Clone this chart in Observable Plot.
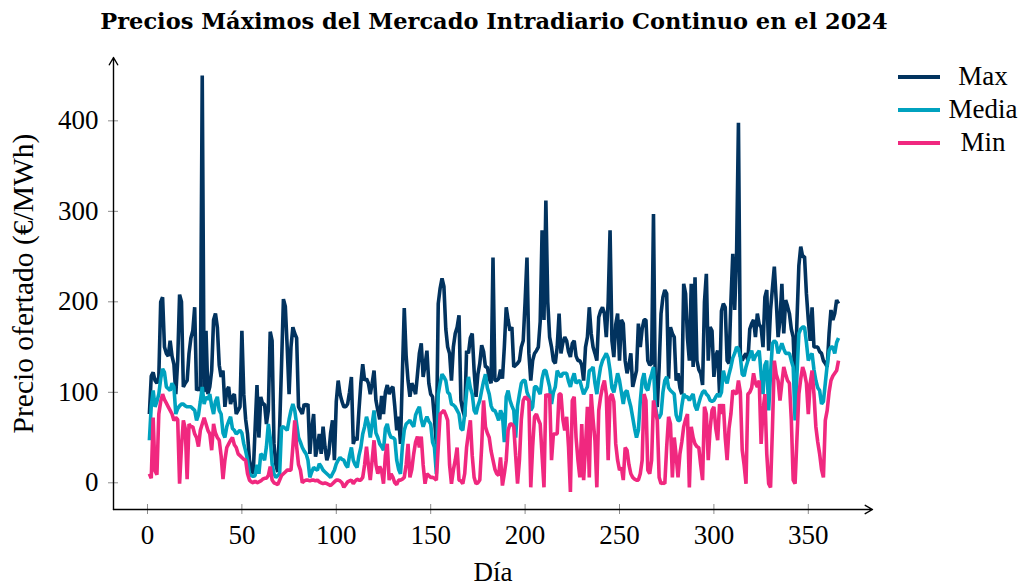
<!DOCTYPE html>
<html>
<head>
<meta charset="utf-8">
<script src="https://cdn.jsdelivr.net/npm/d3@7"></script>
<script src="https://cdn.jsdelivr.net/npm/@observablehq/plot@0.6"></script>
<style>
  html, body { margin: 0; padding: 0; background: #fff; }
  body { width: 1024px; height: 587px; position: relative; overflow: hidden; }
  #chart { position: absolute; left: 0; top: 0; }
  #title { position: absolute; left: 0; top: 8px; width: 988px; text-align: center;
           font-family: "DejaVu Serif"; font-weight: bold; font-size: 22.5px; line-height: 26px; color: #000; }
  .lg-line { position: absolute; left: 898px; width: 42px; height: 4px; }
  .lg-text { position: absolute; left: 933px; width: 100px; text-align: center;
             font-family: "Liberation Serif"; font-size: 27px; line-height: 30px; color: #000; }
</style>
</head>
<body>
<div id="title">Precios Máximos del Mercado Intradiario Continuo en el 2024</div>
<div id="chart"></div>
<div id="legend"></div>
<script>
// ---- data (daily values, 2024) ----
const seriesNames = ["Max", "Media", "Min"];
const seriesColors = ["#02335f", "#00a2bf", "#f0287f"];

const maxVals = [
76,118,122,113,110,117,200,205,150,143,
140,157,140,131,98,135,208,200,106,110,
113,143,160,168,194,102,105,102,450,100,
168,98,106,124,180,187,172,130,117,124,
84,102,106,87,95,98,76,80,84,168,
98,70,54,25,15,10,60,108,50,95,
87,87,65,80,167,157,43,20,12,62,
130,203,195,150,98,150,172,165,160,84,
80,76,87,85,87,32,60,76,29,40,
54,32,62,40,25,32,55,69,25,90,
113,98,90,84,84,87,100,117,43,50,
47,80,110,131,113,115,110,98,110,124,
91,80,70,96,76,100,108,98,104,106,
84,58,73,43,120,193,140,113,95,110,
105,98,120,143,154,117,130,146,110,98,
95,70,43,198,215,226,217,170,150,143,
113,150,165,172,185,91,80,73,146,143,
160,165,124,95,120,132,152,145,128,128,
115,110,249,113,113,115,125,115,150,194,
180,168,172,128,130,132,135,150,157,200,
249,143,113,135,143,146,150,178,279,180,
312,200,161,150,135,132,150,187,143,155,
161,157,145,139,154,157,140,135,135,130,
113,150,161,194,165,150,143,135,183,190,
194,187,161,200,279,157,139,175,187,135,
180,176,135,121,130,143,106,115,124,176,
150,170,180,180,135,130,132,297,90,84,
128,187,205,213,209,115,172,165,161,113,
121,105,98,220,209,160,135,220,128,227,
135,125,121,108,200,231,135,172,168,117,
140,146,98,190,198,194,135,132,200,253,
191,250,398,140,135,140,143,135,170,176,
180,161,187,175,172,150,205,213,146,191,
215,239,202,161,180,220,165,202,195,187,
170,161,106,180,240,261,250,250,209,180,
157,194,150,150,150,145,143,135,132,128,
165,191,180,187,202,198
];

const mediaVals = [
47,85,102,84,90,98,115,126,122,106,
104,102,110,106,76,82,85,87,87,85,
84,84,84,82,80,69,75,90,106,87,
95,92,98,85,76,90,95,80,76,55,
50,62,68,73,60,58,54,56,58,55,
43,35,25,10,8,7,8,20,10,32,
30,25,40,65,50,21,10,6,8,10,
61,62,60,58,70,80,87,80,65,50,
45,39,35,32,25,6,12,17,15,14,
21,18,14,12,10,8,6,10,14,21,
25,28,26,25,20,17,30,39,25,20,
17,30,39,54,62,73,65,50,65,80,
55,50,43,40,36,60,65,55,50,50,
48,25,15,10,40,58,65,67,69,65,
62,75,80,84,70,62,68,73,68,65,
45,39,10,98,110,120,117,113,100,98,
87,86,84,80,76,60,58,76,100,117,
105,98,80,76,85,91,102,112,120,105,
98,85,80,80,75,69,80,75,45,95,
102,91,85,80,50,85,98,110,113,113,
100,95,80,84,106,106,102,98,115,124,
124,115,106,87,100,106,124,120,117,121,
121,121,112,106,115,121,110,112,113,105,
98,102,106,124,125,128,110,98,115,128,
135,139,143,138,124,105,100,110,121,113,
100,87,100,102,92,84,72,60,50,58,
90,113,121,105,102,113,120,128,85,72,
72,76,100,113,117,105,102,100,98,75,
69,69,85,98,95,95,91,95,98,85,
80,88,95,100,102,98,96,91,90,91,
95,98,95,100,124,115,110,120,128,138,
143,150,148,139,120,118,128,135,140,146,
135,140,143,146,120,98,130,135,80,120,
154,157,155,143,148,154,148,143,143,143,
135,128,69,120,165,170,172,172,155,135,
140,143,125,113,105,102,87,90,110,130,
146,150,150,143,155,160
];

const minVals = [
10,5,72,13,9,76,90,98,92,88,
84,80,76,69,72,70,-1,40,69,60,
4,65,62,62,54,50,40,58,65,72,
65,58,54,36,65,55,50,47,30,4,
25,39,43,47,50,42,39,32,30,28,
26,25,10,3,1,0,2,0,1,2,
4,5,5,8,18,3,0,-1,-2,3,
8,10,12,14,14,14,40,69,40,20,
14,0,2,3,3,2,3,3,2,3,
1,0,-1,0,-1,-2,-3,-1,1,3,
3,2,0,-5,-2,1,2,3,-1,2,
4,3,3,6,20,40,20,3,25,47,
20,10,18,13,-1,30,43,3,10,6,
0,-2,3,3,4,6,20,43,6,15,
32,45,51,39,51,20,-1,10,8,6,
6,5,3,40,76,78,80,75,69,20,
-1,14,25,39,3,2,-1,10,39,55,
69,30,6,-1,0,3,40,91,62,55,
50,35,25,15,10,8,28,-3,10,25,
58,65,65,62,30,-1,25,70,91,95,
93,91,-5,40,73,76,70,65,30,-5,
98,95,98,25,54,54,54,98,98,70,
58,73,40,-10,91,95,50,25,6,65,
3,40,84,6,98,70,47,-5,80,95,
106,113,98,25,95,98,90,43,25,14,
17,3,39,36,20,10,6,4,3,3,
10,25,98,91,14,10,25,91,80,69,
6,-1,0,-1,40,73,65,6,50,30,
6,32,45,62,70,76,-5,62,50,43,
40,39,20,3,84,76,25,60,80,84,
60,47,87,76,87,50,25,60,76,102,
100,98,113,100,36,20,-1,98,100,105,
121,110,106,113,43,80,98,32,-1,-5,
60,135,120,113,91,110,128,120,113,110,
70,3,-1,50,98,115,128,121,110,76,
110,124,98,62,45,32,15,6,69,80,
100,113,118,121,124,135
];

const xTicks = [0, 50, 100, 150, 200, 250, 300, 350];
const yTicks = [0, 100, 200, 300, 400];
const xDomain = [-18, 384];
const yDomain = [-29.5, 470];
const xLabel = "Día";
const yLabel = "Precio ofertado (€/MWh)";

// ---- build ----
const seriesValues = [maxVals, mediaVals, minVals];
const rows = [];
seriesValues.forEach((vals, s) => vals.forEach((v, i) => rows.push({day: i + 1, value: v, serie: seriesNames[s]})));

const serif = "Liberation Serif";
const lineMarks = seriesNames.map((name, s) =>
  Plot.line(rows.filter(r => r.serie === name), {
    x: "day", y: "value", stroke: seriesColors[s], strokeWidth: 3.6,
    strokeLinejoin: "miter", strokeLinecap: "butt", curve: "linear"
  })
);

const chart = Plot.plot({
  width: 1024, height: 587,
  marginLeft: 113, marginRight: 152, marginTop: 57, marginBottom: 78,
  x: {domain: xDomain, axis: null},
  y: {domain: yDomain, axis: null},
  style: {background: "transparent", fontFamily: serif, overflow: "visible", color: "#000"},
  marks: [
    // tick marks crossing the axes
    Plot.ruleX(xTicks, {x: d => d, y1: yDomain[0], y2: yDomain[0], insetTop: -5, insetBottom: -5, stroke: "#8c8c8c", strokeWidth: 1}),
    Plot.ruleY(yTicks, {y: d => d, x1: xDomain[0], x2: xDomain[0], insetLeft: -5, insetRight: -5, stroke: "#8c8c8c", strokeWidth: 1}),
    ...lineMarks,
    // axis lines with arrows
    Plot.arrow([xDomain], {x1: xDomain[0], y1: yDomain[0], x2: xDomain[1], y2: yDomain[0], stroke: "#000", strokeWidth: 1.4, headLength: 9}),
    Plot.arrow([yDomain], {x1: xDomain[0], y1: yDomain[0], x2: xDomain[0], y2: yDomain[1], stroke: "#000", strokeWidth: 1.4, headLength: 9}),
    // tick labels
    Plot.text(xTicks, {x: d => d, y: yDomain[0], dy: 26, text: d => String(d), fontSize: 27, fill: "#000", lineAnchor: "middle"}),
    Plot.text(yTicks, {x: xDomain[0], y: d => d, dx: -15, text: d => String(d), fontSize: 27, fill: "#000", textAnchor: "end", lineAnchor: "middle"}),
    // axis titles
    Plot.text([xLabel], {frameAnchor: "bottom", dy: 63, text: d => d, fontSize: 27, fill: "#000", textAnchor: "middle", lineAnchor: "middle"}),
    Plot.text([yLabel], {frameAnchor: "left", dx: -90, rotate: -90, text: d => d, fontSize: 29.5, fill: "#000", textAnchor: "middle", lineAnchor: "middle"})
  ]
});
document.getElementById("chart").appendChild(chart);

// ---- legend ----
const legend = document.getElementById("legend");
const legendY = [77, 110, 143];
seriesNames.forEach((name, i) => {
  const ln = document.createElement("div");
  ln.className = "lg-line";
  ln.style.top = (legendY[i] - 2) + "px";
  ln.style.background = seriesColors[i];
  legend.appendChild(ln);
  const tx = document.createElement("div");
  tx.className = "lg-text";
  tx.style.top = (legendY[i] - 16) + "px";
  tx.textContent = name;
  legend.appendChild(tx);
});
</script>
</body>
</html>
